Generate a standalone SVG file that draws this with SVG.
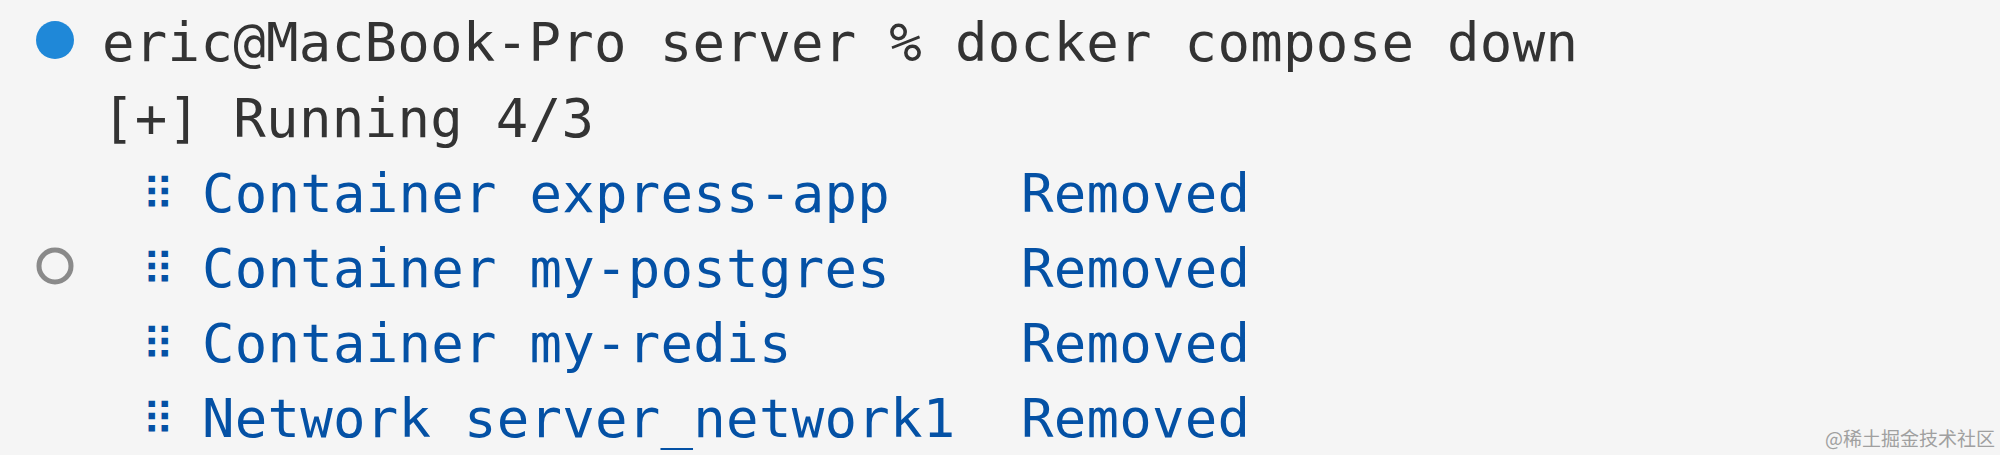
<svg xmlns="http://www.w3.org/2000/svg" width="2000" height="455" viewBox="0 0 2000 455">
<style>
.t{font-family:"DejaVu Sans Mono","Liberation Mono",monospace;font-size:54px;white-space:pre}
.d{font-family:"DejaVu Sans Mono","DejaVu Sans",monospace;font-size:44px;fill:#0451a5}
.k{fill:#333333}.b{fill:#0451a5}
</style>
<rect width="2000" height="455" fill="#f5f5f5"/>
<g id="status-dots">
<circle cx="55" cy="40" r="19" fill="#1f88d8"/>
<circle cx="55" cy="266" r="16" fill="none" stroke="#8a8a8a" stroke-width="5"/>
</g>
<g id="output" xml:space="preserve">
<text class="t k" x="102" y="61" textLength="1476">eric@MacBook-Pro server % docker compose down</text>
<text class="t k" x="102" y="137" textLength="492">[+] Running 4/3</text>
<text class="d" x="142" y="210">⠿</text>
<text class="t b" x="202" y="212" textLength="1048">Container express-app    Removed</text>
<text class="d" x="142" y="285">⠿</text>
<text class="t b" x="202" y="287" textLength="1048">Container my-postgres    Removed</text>
<text class="d" x="142" y="360">⠿</text>
<text class="t b" x="202" y="362" textLength="1048">Container my-redis       Removed</text>
<text class="d" x="142" y="435">⠿</text>
<text class="t b" x="202" y="437" textLength="1048">Network server_network1  Removed</text>
</g>
<text x="1995" y="446" text-anchor="end" font-family="'Noto Sans CJK SC',sans-serif" font-size="19" fill="#a0a0a0">@稀土掘金技术社区</text>
</svg>
